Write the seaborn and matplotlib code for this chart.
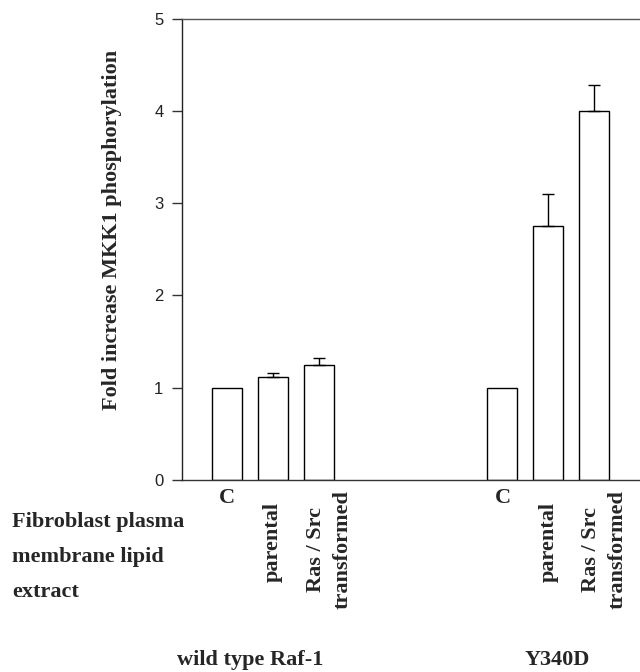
import numpy as np
import pandas as pd
import matplotlib
matplotlib.use('Agg')
import matplotlib.pyplot as plt
import matplotlib.transforms as mtransforms
import seaborn as sns

# data
groups = ['wild type Raf-1', 'Y340D']
treatments = ['C', 'parental', 'Ras / Src\ntransformed']
fold_wt = [1.0, 1.12, 1.25]
fold_y340d = [1.0, 2.75, 4.0]
err_wt = [0.0, 0.04, 0.07]
err_y340d = [0.0, 0.35, 0.28]
row_label = 'Fibroblast plasma\nmembrane lipid\nextract'
y_label = 'Fold increase MKK1 phosphorylation'
y_ticks = [0, 1, 2, 3, 4, 5]

# layout: three bars per group, three empty slots between groups
group_step = 6
first_slot = 1

rows = []
for g, (vals, errs) in enumerate([(fold_wt, err_wt), (fold_y340d, err_y340d)]):
    for t, (v, e) in enumerate(zip(vals, errs)):
        rows.append({'group': groups[g], 'treatment': treatments[t],
                     'pos': first_slot + g * group_step + t, 'fold': v, 'err': e})
df = pd.DataFrame(rows)

sns.set_style('ticks')
plt.rcParams['font.family'] = ['Liberation Serif', 'DejaVu Serif']

W, H = 640, 672
fig = plt.figure(figsize=(W / 100, H / 100), dpi=100)
ax = fig.add_axes([181.5 / W, 192 / H, 1 - 181.5 / W, 461.3 / H])

sns.barplot(data=df, x='pos', y='fold', native_scale=True, width=0.655,
            color='white', edgecolor='black', linewidth=1.0,
            errorbar=None, ax=ax)

has_err = df['err'] > 0
ax.errorbar(df.loc[has_err, 'pos'], df.loc[has_err, 'fold'],
            yerr=[np.zeros(has_err.sum()), df.loc[has_err, 'err']],
            fmt='none', ecolor='black', elinewidth=1.0, capsize=4, capthick=1.0)

ax.set_xlim(0, 10)
ax.set_ylim(0, 5)
ax.set_yticks(y_ticks)
ax.set_yticklabels([str(t) for t in y_ticks], family='Liberation Sans',
                   fontsize=12, color='#222222')
ax.tick_params(axis='y', direction='out', length=7, width=1.0, pad=6, color='#333333')
ax.set_xticks([])
ax.set_xlabel('')

ax.spines['right'].set_visible(False)
ax.spines['top'].set_color('#555555')
ax.spines['left'].set_color('#222222')
ax.spines['bottom'].set_color('#333333')
for s in ['top', 'left', 'bottom']:
    ax.spines[s].set_linewidth(1.0)

ax.set_ylabel(y_label, fontsize=16, fontweight='bold')
ax.yaxis.set_label_coords(-0.13, 0.542)

def fy(px):
    return 1 - px / H

trans = mtransforms.blended_transform_factory(ax.transData, fig.transFigure)
for _, r in df.iterrows():
    if r['treatment'] == 'C':
        ax.text(r['pos'], fy(488), r['treatment'], transform=trans, ha='center', va='top',
                fontsize=16, fontweight='bold')
    elif '\n' in r['treatment']:
        ax.text(r['pos'] + 0.22, fy(490), r['treatment'], transform=trans, ha='center',
                va='top', rotation=90, fontsize=16, fontweight='bold',
                multialignment='center', linespacing=1.4)
    else:
        ax.text(r['pos'], fy(542), r['treatment'], transform=trans, ha='center',
                va='center', rotation=90, fontsize=16, fontweight='bold')

fig.text(12 / W, fy(512), row_label, ha='left', va='top', fontsize=16,
         fontweight='bold', linespacing=2.0)

group_offset = [-0.5, 0.2]
for g, name in enumerate(groups):
    center = first_slot + g * group_step + 1
    ax.text(center + group_offset[g], fy(650), name, transform=trans, ha='center',
            va='top', fontsize=16, fontweight='bold')

fig.savefig('out.png', dpi=100)
